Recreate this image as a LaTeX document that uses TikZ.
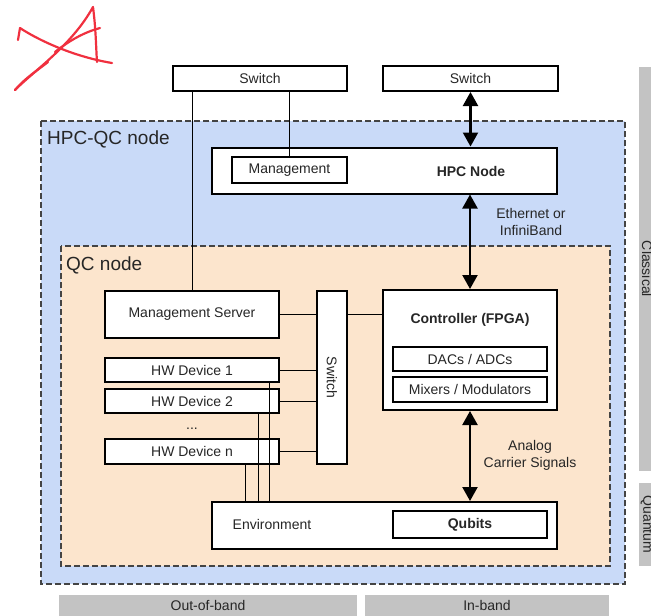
\documentclass[tikz,border=0pt]{standalone}
\usepackage{fontspec}
\setmainfont{Liberation Sans}
\usetikzlibrary{arrows.meta}
\definecolor{hpcblue}{HTML}{C9DAF8}
\definecolor{qcpeach}{HTML}{FCE5CD}
\definecolor{bargray}{HTML}{C3C3C3}
\definecolor{dashgray}{HTML}{444444}
\definecolor{txt}{HTML}{262626}
\definecolor{scribble}{HTML}{F0303F}
\begin{document}
\begin{tikzpicture}[x=1pt,y=-1pt,
  every node/.style={font=\fontsize{14}{17}\selectfont, text=txt},
  bigbox/.style={draw=black, line width=2pt, fill=white, inner sep=0pt},
  smallbox/.style={draw=black, line width=1.2pt, fill=white, inner sep=0pt},
  wire/.style={draw=black, line width=0.9pt},
  dblarrow/.style={line width=2.2pt, {Triangle[width=15pt,length=14pt]}-{Triangle[width=15pt,length=14pt]}},
  region/.style={draw=dashgray, line width=1.2pt, dash pattern=on 6pt off 3pt},
  bar/.style={fill=bargray, draw=none},
  title/.style={font=\fontsize{19}{22}\selectfont, anchor=west, inner sep=0pt},
  ink/.style={draw=scribble, line width=2.2pt, line cap=round, line join=round}
]
\useasboundingbox (0,0) rectangle (651,616);

% scribble
\draw[ink] (18,40) -- (20,28) .. controls (35,38) and (70,56) .. (112,63);
\draw[ink] (15,90) .. controls (35,70) and (72,45) .. (93,7) .. controls (96,30) and (96,48) .. (97,62);
\draw[ink] (15,90) .. controls (25,78) and (38,70) .. (48,62);
\draw[ink] (55,52) .. controls (70,40) and (85,32) .. (100,28);

% regions
\path[region, fill=hpcblue] (41,121) rectangle (625,584);
\path[region, fill=qcpeach] (61,246) rectangle (610,566);
\node[title] (hpcqclbl) at (47,139) {HPC-QC node};
\node[title] (qclbl) at (66,265) {QC node};

% side and bottom bars
\fill[bar] (639,67) rectangle (660,471);
\fill[bar] (639,483) rectangle (660,566);
\fill[bar] (59,595) rectangle (357,620);
\fill[bar] (365,595) rectangle (609,620);
\node[rotate=-90] (classlbl) at (647,269) {Classical};
\node[rotate=-90] (quantlbl) at (647,524.5) {Quantum};
\node (oob) at (208,605) {Out-of-band};
\node (inb) at (487,605) {In-band};

% boxes
\node[bigbox, minimum width=174pt, minimum height=25pt] (sw1) at (260,78.5) {Switch};
\node[bigbox, minimum width=175pt, minimum height=25pt] (sw2) at (470.5,78.5) {Switch};
\node[bigbox, minimum width=345pt, minimum height=46pt] (hpc) at (384.5,170.5) {};
\node[font=\fontsize{14}{17}\selectfont\bfseries] (hpclbl) at (471,171) {HPC Node};
\node[smallbox, minimum width=115pt, minimum height=26pt] (mg) at (289.5,170) {Management};

\node[bigbox, minimum width=174pt, minimum height=47pt] (ms) at (192,314.5) {Management Server};
\node[bigbox, minimum width=174pt, minimum height=24pt] (hw1) at (192,370) {HW Device 1};
\node[bigbox, minimum width=174pt, minimum height=24pt] (hw2) at (192,401) {HW Device 2};
\node (dots) at (192,429) {...};
\node[bigbox, minimum width=174pt, minimum height=25pt] (hwn) at (192,451.5) {HW Device n};
\node[bigbox, minimum width=30pt, minimum height=173pt] (vsw) at (332,377.5) {};
\node[rotate=-90] (vswlbl) at (vsw.center) {Switch};

\node[bigbox, minimum width=174pt, minimum height=120pt] (ctrl) at (470,350) {};
\node[font=\fontsize{14}{17}\selectfont\bfseries] (ctrllbl) at (470,320) {Controller (FPGA)};
\node[smallbox, minimum width=154pt, minimum height=24pt] (dac) at (470,359) {DACs / ADCs};
\node[smallbox, minimum width=154pt, minimum height=25pt] (mix) at (470,389.5) {Mixers / Modulators};

\node[bigbox, minimum width=345pt, minimum height=47pt] (env) at (384.5,525.5) {};
\node (envlbl) at (272,524) {Environment};
\node[smallbox, minimum width=154pt, minimum height=27pt, font=\fontsize{14}{17}\selectfont\bfseries] (qb) at (470,524.5) {Qubits};

% connector labels
\node[align=center] (ethlbl) at (531,221.5) {Ethernet or\\InfiniBand};
\node[align=center] (analbl) at (530,455.5) {Analog\\Carrier Signals};

% wires
\draw[wire] (sw1.south -| ms.north) -- (ms.north);
\draw[wire] (sw1.south -| mg.north) -- (mg.north);
\draw[wire] (ms.east) -- (ms.east -| vsw.west);
\draw[wire] (vsw.east |- ms.east) -- (ctrl.west |- ms.east);
\draw[wire] (hw1.east) -- (hw1.east -| vsw.west);
\draw[wire] (hw2.east) -- (hw2.east -| vsw.west);
\draw[wire] (hwn.east) -- (hwn.east -| vsw.west);
\draw[wire] ([xshift=-11pt]hw1.south east) -- ([xshift=-11pt]hw1.south east |- env.north);
\draw[wire] ([xshift=-22pt]hw2.south east) -- ([xshift=-22pt]hw2.south east |- env.north);
\draw[wire] ([xshift=-35pt]hwn.south east) -- ([xshift=-35pt]hwn.south east |- env.north);

% arrows
\draw[dblarrow] (sw2.south) -- (sw2.south |- hpc.north);
\draw[dblarrow] (hpc.south -| ctrl.north) -- (ctrl.north);
\draw[dblarrow] (ctrl.south) -- (ctrl.south |- env.north);
\end{tikzpicture}
\end{document}
